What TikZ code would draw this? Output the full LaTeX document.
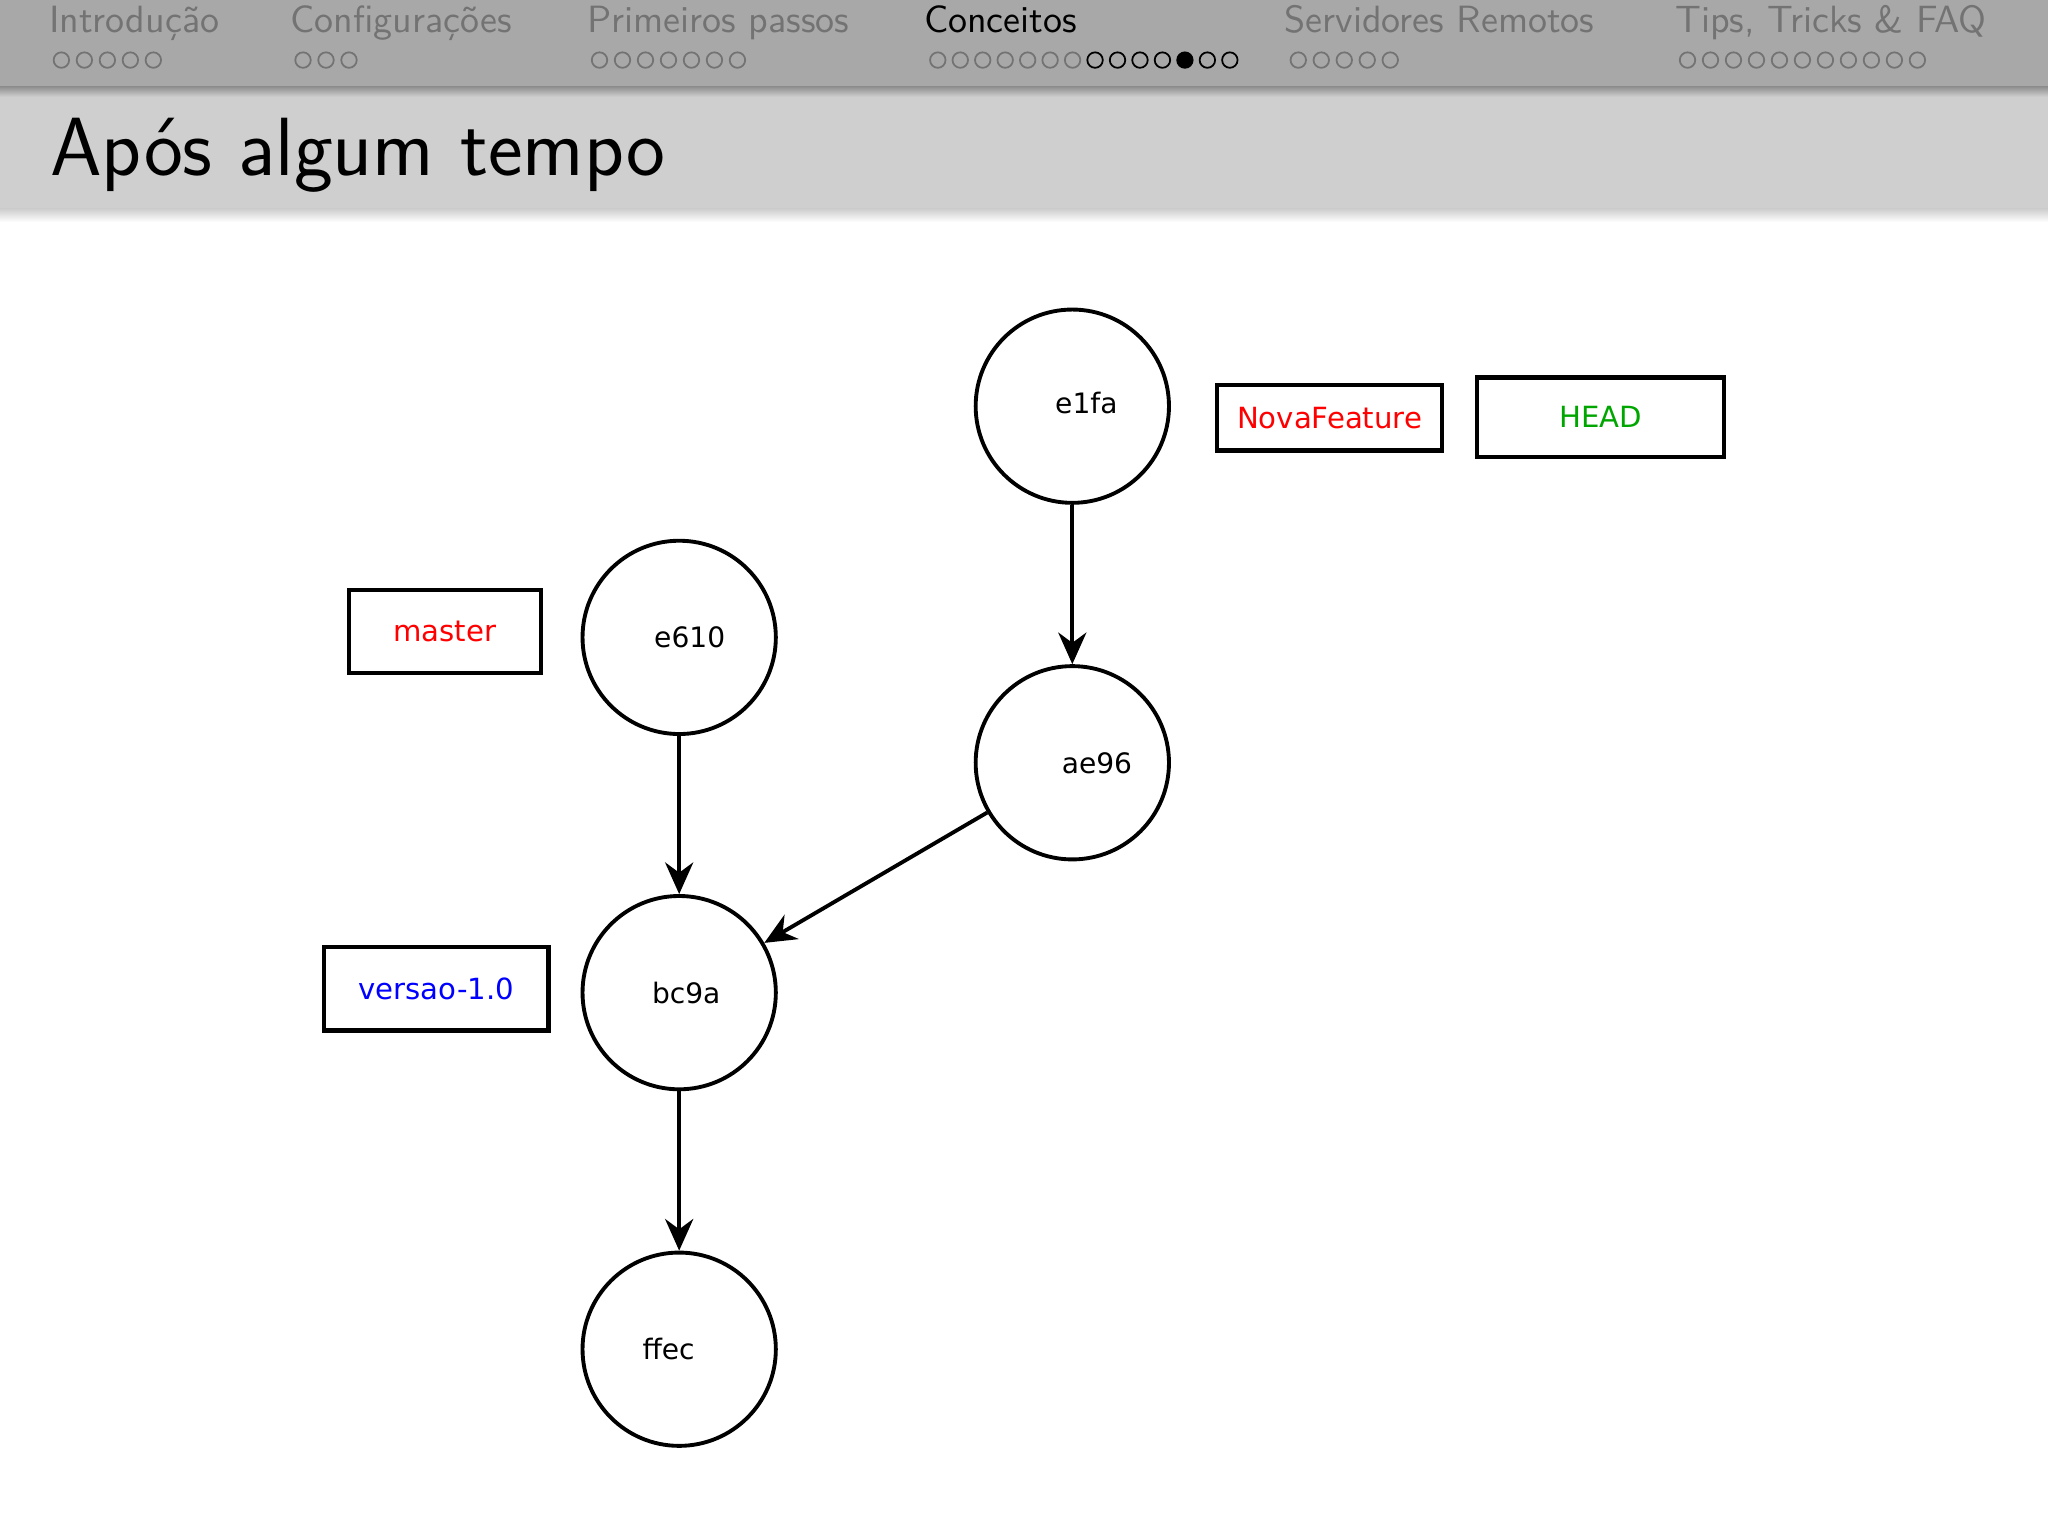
\documentclass[tikz,border=0pt]{standalone}
\usepackage{fontspec}
\newfontfamily\dv{DejaVu Sans}
\usetikzlibrary{arrows.meta}
\begin{document}
\begin{tikzpicture}[x=0.013061cm,y=-0.013061cm,
 commit/.style={circle,draw,line width=1.1pt,minimum size=148*0.013061cm,inner sep=0pt,font=\dv\fontsize{8}{9}\selectfont},
 ref/.style={draw,line width=1.2pt,inner sep=0pt,font=\dv\fontsize{8.3}{10}\selectfont},
 arr/.style={line width=1.1pt,-{Stealth[length=9pt,width=8pt]}},
 nav/.style={anchor=base west,inner sep=0pt,font=\sffamily\fontsize{10.8}{12}\selectfont,text=black!55},
 dot/.style={circle,draw=black!55,line width=0.5pt,minimum size=4.4pt,inner sep=0pt}]
\useasboundingbox (0,0) rectangle (1568,1176);
\fill[white] (0,0) rectangle (1568,1176);
\fill[black!34] (0,0) rectangle (1568,68);
\fill[black!19] (0,68) rectangle (1568,160);
\shade[top color=black!19,bottom color=white] (0,160) rectangle (1568,170);
\shade[top color=black!45,bottom color=black!19] (0,66) rectangle (1568,74);
\node[nav] (n1) at (37,25) {Introdução};
\node[nav] (n2) at (222,25) {Configurações};
\node[nav] (n3) at (449,25) {Primeiros passos};
\node[nav,text=black] (n4) at (707,25) {Conceitos};
\node[nav] (n5) at (983,25) {Servidores Remotos};
\node[nav] (n6) at (1282,25) {Tips, Tricks \& FAQ};
\foreach \x/\n in {47/5,232/3,459/7,994/5,1292/11}{
  \foreach \i in {1,...,\n}{\node[dot] at (\x+17.6*\i-17.6,46) {};}}
\foreach \i in {1,...,14}{
  \pgfmathsetmacro\c{\i>7?"black":"black!55"}
  \ifnum\i=12 \node[dot,fill=black,draw=black] at (718+17.2*\i-17.2,46) {};
  \else \node[dot,draw=\c] at (718+17.2*\i-17.2,46) {};\fi}
\node[anchor=base west,inner sep=0pt,font=\sffamily\fontsize{23.5}{26}\selectfont] (title) at (38,134) {Após algum tempo};
\node[commit] (e1fa) at (821,311) {\hspace{8pt}e1fa\vphantom{Xg}\raisebox{6pt}{}};
\node[commit] (e610) at (520,488) {\hspace{6pt}e610};
\node[commit] (ae96) at (821,584) {\hspace{14pt}ae96};
\node[commit] (bc9a) at (520,760) {\hspace{4pt}bc9a};
\node[commit] (ffec) at (520,1033) {\hspace{-6pt}ffec};
\node[ref,minimum width=147*0.013061cm,minimum height=63*0.013061cm,text=red] (master) at (340.5,483.5) {master};
\node[ref,minimum width=172*0.013061cm,minimum height=64*0.013061cm,text=blue] (versao) at (334,757) {versao-1.0};
\node[ref,minimum width=172*0.013061cm,minimum height=50*0.013061cm,text=red] (nova) at (1018,320) {NovaFeature};
\node[ref,minimum width=189*0.013061cm,minimum height=61*0.013061cm,text=green!65!black] (head) at (1225.5,319.5) {HEAD};
\draw[arr] (e1fa) -- (ae96);
\draw[arr] (e610) -- (bc9a);
\draw[arr] (ae96) -- (bc9a);
\draw[arr] (bc9a) -- (ffec);
\end{tikzpicture}
\end{document}
